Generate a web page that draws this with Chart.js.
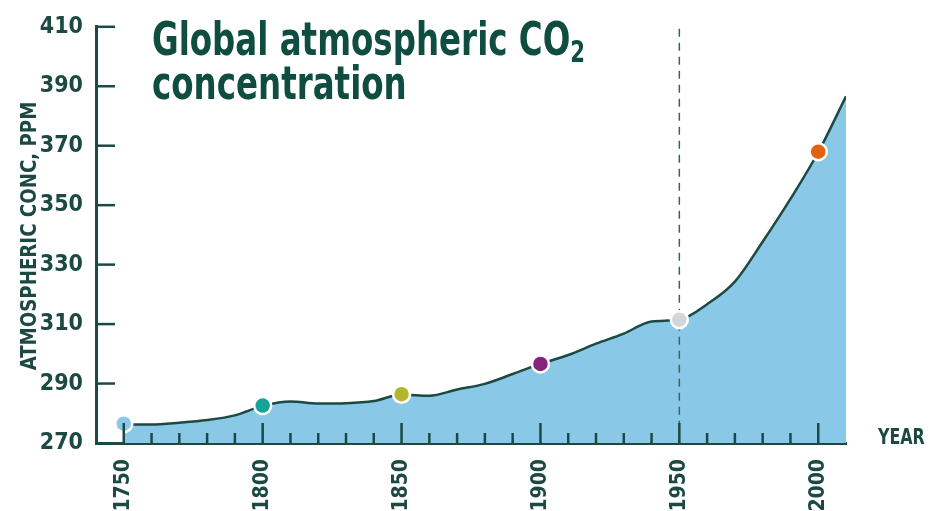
<!DOCTYPE html>
<html>
<head>
<meta charset="utf-8">
<script src="https://cdn.jsdelivr.net/npm/chart.js@4"></script>
<style>
  body { margin: 0; background: #fff; }
  #wrap { position: relative; width: 932px; height: 511px; }
  #title {
    position: absolute; left: 152px; top: 17px;
    font-family: 'Liberation Sans Narrow', 'DejaVu Sans Condensed', sans-serif;
    font-weight: bold; font-size: 46px; line-height: 44px;
    color: #0f4d40; white-space: nowrap;
    transform: scaleX(0.785); transform-origin: 0 0;
  }
  #title sub { font-size: 30px; vertical-align: -7px; line-height: 0; }
</style>
</head>
<body>
<div id="wrap">
  <canvas id="myChart" width="932" height="511"></canvas>
  <div id="title">Global atmospheric CO<sub>2</sub><br>concentration</div>
</div>
<script>
const years = [1750, 1760, 1770, 1780, 1790, 1800, 1810, 1820, 1830, 1840, 1850, 1860, 1870, 1880,
  1890, 1900, 1910, 1920, 1930, 1940, 1950, 1960, 1970, 1980, 1990, 2000, 2010];
const ppm = [276.3, 276.2, 276.8, 277.7, 279.3, 282.5, 284.0, 283.3, 283.4, 284.1, 286.3, 285.9, 288.0, 289.9,
  293.2, 296.6, 299.6, 303.4, 306.8, 310.9, 311.5, 316.7, 324.3, 337.7, 352.1, 367.8, 386.6];
const markYears = [1750, 1800, 1850, 1900, 1950, 2000];
const markPpm = [276.5, 282.6, 286.4, 296.6, 311.5, 368.0];
const markColors = ['#8cc8e8', '#12a39b', '#b3b52b', '#86237b', '#d3d5d9', '#e0640f'];
const yTicks = [270, 290, 310, 330, 350, 370, 390, 410];

const ink = '#1c4a43';
const fontFam = "'Liberation Sans Narrow', 'DejaVu Sans Condensed', sans-serif";

// tick marks inside the plot, dashed 1950 line, axis titles
const decor = {
  id: 'decor',
  afterDatasetDraw(chart, args) {
    if (args.index !== 1) return;
    const ctx = chart.ctx, x = chart.scales.x, a = chart.chartArea;
    const px = x.getPixelForValue(1950);
    ctx.save();
    ctx.strokeStyle = '#3f625e';
    ctx.lineWidth = 1.5;
    ctx.setLineDash([8, 6]);
    ctx.beginPath();
    ctx.moveTo(px, a.top + 2);
    ctx.lineTo(px, a.bottom);
    ctx.stroke();
    ctx.restore();
  },
  afterDraw(chart) {
    const ctx = chart.ctx, x = chart.scales.x, y = chart.scales.y, a = chart.chartArea;
    ctx.save();
    ctx.strokeStyle = ink;
    ctx.lineWidth = 2.5;
    for (let yr = 1750; yr <= 2000; yr += 10) {
      const px = x.getPixelForValue(yr);
      const len = yr % 50 === 0 ? 20 : 10;
      ctx.beginPath();
      ctx.moveTo(px, a.bottom);
      ctx.lineTo(px, a.bottom - len);
      ctx.stroke();
    }
    yTicks.slice(1).forEach(v => {
      const py = y.getPixelForValue(v);
      ctx.beginPath();
      ctx.moveTo(a.left, py);
      ctx.lineTo(a.left + 19, py);
      ctx.stroke();
    });
    ctx.fillStyle = ink;
    ctx.font = 'bold 21px ' + fontFam;
    ctx.textAlign = 'left';
    ctx.textBaseline = 'alphabetic';
    ctx.save();
    ctx.translate(878, a.bottom + 1);
    ctx.scale(0.84, 1);
    ctx.fillText('YEAR', 0, 0);
    ctx.restore();
    ctx.translate(30, 236);
    ctx.rotate(-Math.PI / 2);
    ctx.scale(0.92, 1);
    ctx.textAlign = 'center';
    ctx.textBaseline = 'middle';
    ctx.font = 'bold 22px ' + fontFam;
    ctx.fillText('ATMOSPHERIC CONC, PPM', 0, 0);
    ctx.restore();
  }
};

const ctx = document.getElementById('myChart');
const myChart = new Chart(ctx, {
  type: 'line',
  data: {
    datasets: [{
      type: 'scatter',
      data: markYears.map((yr, i) => ({x: yr, y: markPpm[i]})),
      pointRadius: 8.5,
      pointBackgroundColor: markColors,
      pointBorderColor: '#ffffff',
      pointBorderWidth: 2.5,
      order: 0
    }, {
      data: years.map((yr, i) => ({x: yr, y: ppm[i]})),
      borderColor: ink,
      borderWidth: 2.5,
      backgroundColor: '#89c8e6',
      fill: 'start',
      pointRadius: 0,
      cubicInterpolationMode: 'monotone',
      order: 1
    }]
  },
  options: {
    responsive: false,
    animation: false,
    layout: { padding: { left: 0, right: 86, top: 23, bottom: 0 } },
    plugins: { legend: { display: false }, tooltip: { enabled: false }, title: { display: false } },
    scales: {
      x: {
        type: 'linear',
        min: 1740,
        max: 2010,
        afterBuildTicks: s => { s.ticks = markYears.map(v => ({value: v})); },
        afterFit: s => { s.height = 68; },
        grid: { display: false, drawTicks: false },
        border: { display: true, color: ink, width: 3 },
        ticks: {
          minRotation: 90, maxRotation: 90, padding: 16,
          color: ink, font: { family: fontFam, weight: 'bold', size: 21 },
          callback: v => String(v)
        }
      },
      y: {
        min: 270,
        max: 410,
        afterBuildTicks: s => { s.ticks = yTicks.map(v => ({value: v})); },
        afterFit: s => { s.width = 96; },
        grid: { display: false, drawTicks: false },
        border: { display: true, color: ink, width: 3 },
        ticks: {
          padding: 13,
          color: ink, font: { family: fontFam, weight: 'bold', size: 23 }
        }
      }
    }
  },
  plugins: [decor]
});
</script>
</body>
</html>
